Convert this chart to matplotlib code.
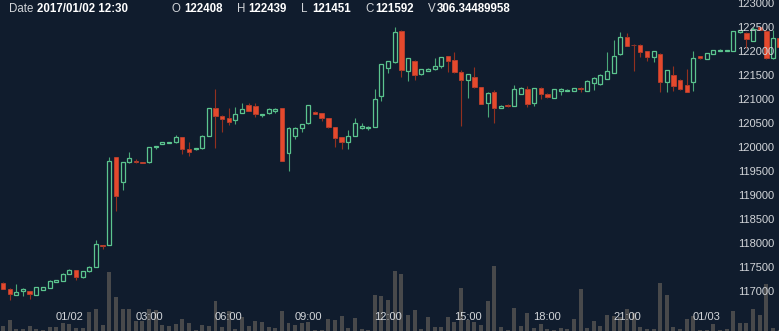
import matplotlib
matplotlib.use("Agg")
import matplotlib.pyplot as plt
import pandas as pd

# 15 minute candles, 2017/01/01 21:30 -> 2017/01/03 02:45
times = pd.date_range("2017-01-01 21:30", periods=118, freq="15min")

opens = [117168, 117043, 116918, 116994, 116994, 116918, 117015, 117064, 117182, 117210,
         117356, 117432, 117279, 117404, 117495, 117953, 117953, 119779, 119265, 119675,
         119710, 119682, 119675, 119987, 120064, 120078, 120092, 120196, 119953, 119946,
         119967, 120230, 120800, 120647, 120592, 120564, 120710, 120862, 120841, 120654,
         120696, 120737, 120800, 119876, 120230, 120383, 120487, 120730, 120703, 120598,
         120404, 120203, 120092, 120230, 120383, 120397, 120411, 121050, 121633, 121758,
         122408, 121578, 121793, 121508, 121577, 121612, 121675, 121890, 121814, 121564,
         121390, 121453, 121244, 120904, 121147, 120807, 120862, 120848, 121098, 121203,
         120904, 121230, 121105, 121022, 121154, 121154, 121168, 121230, 121168, 121321,
         121300, 121418, 121543, 121925, 122293, 122126, 122126, 121994, 121876, 121939,
         121348, 121494, 121397, 121286, 121341, 121883, 121835, 121939, 121994, 121994,
         121994, 122383, 122376, 122209, 122487, 122404, 121841, 122258]
highs = [117180, 117050, 117133, 117050, 117000, 117085, 117078, 117224, 117224, 117365,
         117460, 117440, 117410, 117510, 118057, 117960, 119793, 119785, 119680, 119883,
         119737, 119690, 120000, 120020, 120098, 120105, 120237, 120200, 120092, 119980,
         120236, 120806, 121203, 120655, 120800, 120821, 120904, 120904, 120904, 120680,
         120800, 120800, 120805, 120402, 120402, 120470, 120875, 120735, 120708, 120603,
         120410, 120208, 120348, 120592, 120487, 120422, 121203, 121720, 121785, 122501,
         122439, 121846, 121798, 121618, 121632, 121841, 121875, 121895, 121966, 121598,
         121514, 121668, 121250, 121132, 121175, 120861, 120890, 121279, 121236, 121265,
         121222, 121236, 121110, 121208, 121215, 121203, 121222, 121235, 121382, 121445,
         121506, 121980, 122223, 122383, 122362, 122130, 122131, 121999, 122000, 121945,
         121604, 121682, 121402, 121619, 121994, 121888, 121952, 122014, 122028, 122020,
         122410, 122440, 122382, 122501, 122495, 122432, 122432, 122265]
lows = [117030, 116807, 116915, 116890, 116821, 116910, 117008, 117055, 117175, 117203,
        117350, 117224, 117272, 117397, 117488, 117862, 117945, 118668, 119099, 119668,
        119670, 119660, 119668, 119953, 120058, 120072, 120085, 119842, 119814, 119940,
        119960, 120224, 119980, 120307, 120460, 120480, 120704, 120745, 120612, 120626,
        120690, 120710, 119698, 119501, 120161, 120300, 120480, 120678, 120536, 120383,
        120001, 119953, 119953, 120225, 120378, 120348, 120405, 120960, 121529, 121752,
        121451, 121362, 121390, 121502, 121571, 121606, 121647, 121564, 121529, 120432,
        121022, 121232, 120884, 120626, 120501, 120800, 120836, 120842, 121092, 120835,
        120848, 120994, 121024, 121016, 121078, 121150, 121162, 121147, 121162, 121182,
        121294, 121412, 121537, 121920, 122100, 121585, 121876, 121793, 121772, 121140,
        121140, 121168, 121190, 121142, 121161, 121828, 121830, 121933, 121988, 121990,
        121988, 122376, 122050, 122203, 122425, 121835, 121835, 122078]
closes = [117043, 116925, 116974, 117043, 116932, 117078, 117071, 117196, 117217, 117356,
          117439, 117286, 117404, 117502, 117967, 117939, 119696, 118980, 119675, 119765,
          119675, 119668, 119994, 120015, 120092, 120099, 120196, 119960, 119897, 119974,
          120230, 120800, 120647, 120578, 120522, 120682, 120779, 120751, 120689, 120675,
          120793, 120793, 119703, 120397, 120397, 120466, 120869, 120682, 120592, 120418,
          120189, 120099, 120230, 120494, 120425, 120418, 121001, 121716, 121779, 122397,
          121592, 121841, 121494, 121612, 121626, 121682, 121869, 121779, 121550, 121383,
          121508, 121237, 120890, 121126, 120800, 120855, 120841, 121196, 121230, 120890,
          121216, 121098, 121029, 121203, 121210, 121175, 121216, 121210, 121376, 121439,
          121501, 121578, 121897, 122293, 122105, 122112, 121980, 121869, 121994, 121348,
          121598, 121272, 121196, 121147, 121841, 121855, 121946, 122008, 122022, 122015,
          122404, 122432, 122244, 122446, 122432, 121841, 122258, 122084]
volumes = [27, 59, 12, 11, 25, 12, 5, 23, 23, 45,
           38, 18, 16, 104, 117, 31, 315, 183, 120, 117,
           52, 55, 118, 113, 32, 27, 39, 63, 41, 5,
           34, 25, 163, 21, 107, 12, 74, 25, 55, 47,
           20, 15, 107, 43, 34, 43, 50, 5, 5, 63,
           57, 79, 15, 68, 11, 3, 192, 190, 166, 321,
           306.34, 84, 111, 11, 75, 21, 21, 77, 48, 231,
           59, 50, 32, 159, 349, 21, 5, 125, 28, 98,
           16, 38, 11, 5, 18, 11, 66, 224, 16, 54,
           28, 86, 81, 74, 117, 95, 21, 12, 12, 259,
           193, 20, 9, 66, 81, 5, 5, 36, 7, 9,
           107, 45, 45, 118, 84, 252, 15, 5]

price_ticks = list(range(117000, 123001, 500))

header = [("Date", "2017/01/02 12:30"), ("O", "122408"), ("H", "122439"),
          ("L", "121451"), ("C", "121592"), ("V", "306.34489958")]

bg = "#101c2d"
up_color = "#5cc58f"
up_wick = "#4aa878"
down_color = "#e5492d"
down_wick = "#93301f"
vol_color = "#48494b"
text_color = "#d2d5d9"

plt.rcParams["font.family"] = ["Liberation Sans", "DejaVu Sans"]

fig = plt.figure(figsize=(7.79, 3.31), dpi=100, facecolor=bg)

# volume underneath
ax_v = fig.add_axes([0, 0, 1, 1], zorder=0)
ax_v.set_facecolor(bg)
x = list(range(len(times)))
ax_v.bar(x, volumes, width=0.6, color=vol_color, linewidth=0)
ax_v.set_xlim(-0.467, 116.9)
ax_v.set_ylim(0, 1779)
ax_v.axis("off")

ax = fig.add_axes([0, 0, 1, 1], zorder=1)
ax.patch.set_alpha(0)

for i in x:
    o, h, l, c = opens[i], highs[i], lows[i], closes[i]
    lo_b, hi_b = min(o, c), max(o, c)
    if c >= o:
        ax.vlines(i, hi_b, h, color=up_wick, linewidth=0.8)
        ax.vlines(i, l, lo_b, color=up_wick, linewidth=0.8)
        ax.bar(i, hi_b - lo_b, bottom=lo_b, width=0.6, facecolor=bg,
               edgecolor=up_color, linewidth=0.9)
    else:
        ax.vlines(i, hi_b, h, color=down_wick, linewidth=0.8)
        ax.vlines(i, l, lo_b, color=down_wick, linewidth=0.8)
        ax.bar(i, hi_b - lo_b, bottom=lo_b, width=0.66, color=down_color,
               edgecolor=down_color, linewidth=0.4)

ax.set_xlim(-0.467, 116.9)
ax.set_ylim(116160, 123056)

for s in ax.spines.values():
    s.set_visible(False)

# time labels every 3 hours
tick_pos = []
tick_lab = []
for i, t in enumerate(times):
    if t.minute == 0 and t.hour % 3 == 0:
        tick_pos.append(i)
        if t.hour == 0:
            tick_lab.append(t.strftime("%m/%d"))
        else:
            tick_lab.append(t.strftime("%H:%M"))
ax.set_xticks(tick_pos)
ax.set_xticklabels(tick_lab)
ax.tick_params(axis="x", length=0, pad=-14, labelsize=8, labelcolor=text_color)

ax.yaxis.tick_right()
ax.set_yticks(price_ticks)
ax.set_yticklabels([str(p) for p in price_ticks])
ax.tick_params(axis="y", length=0, pad=-3.5, labelsize=8, labelcolor=text_color)
for lab in ax.get_yticklabels():
    lab.set_horizontalalignment("right")

# header line
label_x = [9.3, 172, 237, 301, 365, 427.7]
value_x = [36.7, 184, 248, 312, 375, 436.7]
for k in range(len(header)):
    fig.text(label_x[k] / 779, 1 - 8.5 / 331, header[k][0], color=text_color,
             fontsize=8.3, va="center", ha="left")
    fig.text(value_x[k] / 779, 1 - 8.5 / 331, header[k][1], color="white",
             fontsize=8.3, fontweight="bold", va="center", ha="left")

fig.savefig("out.png", dpi=100, facecolor=bg)
